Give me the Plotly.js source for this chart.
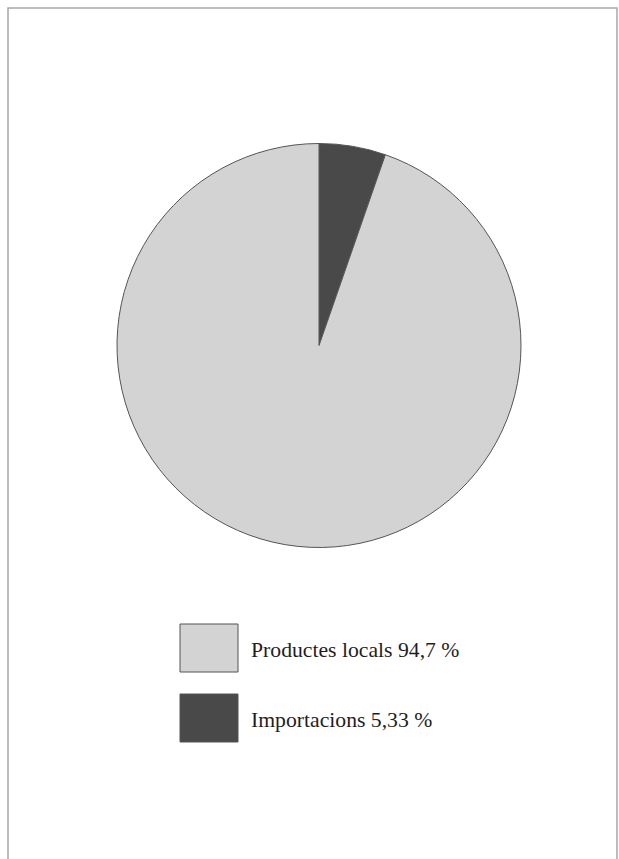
<!DOCTYPE html>
<html>
<head>
<meta charset="utf-8">
<script src="https://cdn.plot.ly/plotly-3.0.1.min.js"></script>
<style>html,body{margin:0;padding:0;background:#fff;}#chart{width:619px;height:859px;}</style>
</head>
<body>
<div id="chart"></div>
<script>
const categories = ['Productes locals', 'Importacions'];
const values = [94.7, 5.33];
const pctLabels = ['94,7 %', '5,33 %'];
const colors = ['#d3d3d3', '#494949'];

const W = 619, H = 859;
const px = v => v / W;
const py = v => 1 - v / H;

const shapes = [
  {type: 'rect', xref: 'paper', yref: 'paper', x0: px(8), x1: px(617), y0: -0.02, y1: py(8),
   line: {color: '#a8a8a8', width: 1.5}, fillcolor: 'rgba(0,0,0,0)'}
];
const annotations = [];
const boxTop = [624, 694];
categories.forEach((c, i) => {
  shapes.push({type: 'rect', xref: 'paper', yref: 'paper',
    x0: px(180), x1: px(238), y0: py(boxTop[i] + 48), y1: py(boxTop[i]),
    line: {color: '#555', width: 1}, fillcolor: colors[i]});
  annotations.push({xref: 'paper', yref: 'paper', x: px(249), y: py(boxTop[i] + 26),
    xanchor: 'left', yanchor: 'middle', showarrow: false,
    text: c + ' ' + pctLabels[i],
    font: {family: 'Liberation Serif, Times New Roman, serif', size: 21.7, color: '#1e1e1e'}});
});

// Slices drawn clockwise from 12 o'clock, Importacions first
const order = [1, 0];
const trace = {
  type: 'pie',
  labels: order.map(i => categories[i]),
  values: order.map(i => values[i]),
  sort: false,
  direction: 'clockwise',
  rotation: 0,
  textinfo: 'none',
  hoverinfo: 'label+percent',
  marker: {colors: order.map(i => colors[i]), line: {color: '#555', width: 1}},
  domain: {x: [px(117), px(521)], y: [py(547.5), py(143.5)]},
  showlegend: false
};

Plotly.newPlot('chart', [trace], {
  width: W, height: H,
  margin: {l: 0, r: 0, t: 0, b: 0},
  paper_bgcolor: '#ffffff',
  showlegend: false,
  shapes: shapes,
  annotations: annotations
}, {displayModeBar: false, staticPlot: true});
</script>
</body>
</html>
